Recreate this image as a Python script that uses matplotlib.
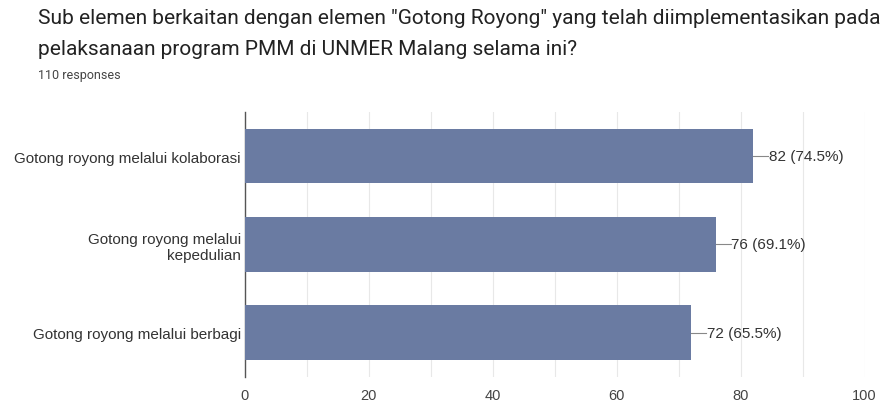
import matplotlib
matplotlib.use("Agg")
import matplotlib.pyplot as plt

# data
categories = ["Gotong royong melalui kolaborasi",
              "Gotong royong melalui\nkepedulian",
              "Gotong royong melalui berbagi"]
counts = [82, 76, 72]
percents = [74.5, 69.1, 65.5]
xticks = [0, 20, 40, 60, 80, 100]

fig = plt.figure(figsize=(8.95, 4.06), dpi=100)
ax = fig.add_axes([0.2737, 0.069, 0.966 - 0.2737, 0.722 - 0.069])

bar_color = "#6a7ba2"
ypos = list(range(len(categories)))
ax.barh(ypos, counts, height=0.62, color=bar_color, zorder=3)

ax.set_xlim(0, 100)
ax.set_ylim(len(categories) - 0.5, -0.5)
ax.set_yticks(ypos)
ax.set_yticklabels(categories, fontsize=11, color="#333333", ha="right",
                   family="Liberation Sans")
ax.set_xticks(xticks)
ax.set_xticks(range(10, 100, 20), minor=True)
ax.tick_params(axis="x", which="both", length=0, labelsize=10.5, labelcolor="#444444", pad=8)
for t in ax.get_xticklabels():
    t.set_family("Liberation Sans")
ax.tick_params(axis="y", length=0, pad=3)
ax.grid(axis="x", which="both", color="#e8e8e8", linewidth=0.8, zorder=0)

for s in ["top", "right", "bottom"]:
    ax.spines[s].set_visible(False)
ax.spines["left"].set_color("#555555")
ax.spines["left"].set_linewidth(1.0)

for y, c, p in zip(ypos, counts, percents):
    ax.plot([c, c + 2.4], [y, y], color="#888888", linewidth=0.8, zorder=3)
    ax.text(c + 2.5, y, f"{c} ({p}%)", va="center", ha="left",
            fontsize=11, color="#333333", family="Liberation Sans")

fig.text(0.042, 0.955, 'Sub elemen berkaitan dengan elemen "Gotong Royong" yang telah diimplementasikan pada',
         fontsize=15.0, color="#222222", va="center", family="Roboto")
fig.text(0.042, 0.877, "pelaksanaan program PMM di UNMER Malang selama ini?",
         fontsize=15.0, color="#222222", va="center", family="Roboto")
fig.text(0.042, 0.813, "110 responses", fontsize=9, color="#444444", va="center",
         family="Roboto")

fig.savefig("out.png", dpi=100)
